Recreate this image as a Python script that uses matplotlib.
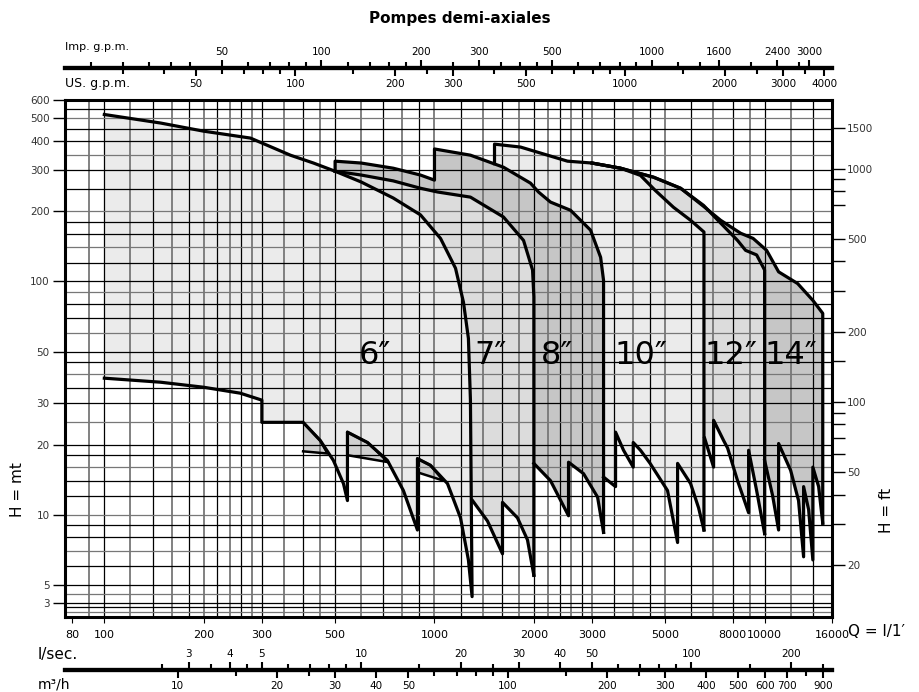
import numpy as np
import matplotlib.pyplot as plt
from matplotlib.ticker import NullLocator, NullFormatter

# Q in l/min, H in m
q6_top = [100, 148, 200, 277, 366, 430, 500, 600, 750, 907, 1043, 1158, 1224, 1267, 1285, 1300]
h6_top = [520, 478, 441, 412, 348, 322, 297, 267, 228, 193, 153, 114, 81.5, 57, 31, 3.7]
q6_bot = [100, 148, 200, 258, 300, 300, 400, 451, 494, 530, 545, 545, 627, 720, 805, 888,
          888, 972, 1095, 1199, 1267, 1300]
h6_bot = [38.5, 37, 35.2, 33.2, 31, 24.9, 24.9, 20.8, 17.1, 13.6, 11.5, 22.6, 20.4, 17.1, 12.7, 8.6,
          17.4, 16.3, 13.6, 9.7, 6.4, 3.7]

q7_top = [500, 600, 750, 907, 1021, 1285, 1618, 1861, 1982, 2000, 2000]
h7_top = [297, 286, 270, 251, 242, 230, 189, 150, 112, 86, 5.5]
q7_bot = [1304, 1447, 1607, 1607, 1784, 1913, 2000]
h7_bot = [11.5, 9.4, 6.8, 11.3, 9.7, 7.8, 5.5]

q8_top = [500, 500, 600, 750, 907, 1000, 1000, 1285, 1618, 1954, 2065, 2246, 2583, 2970, 3186, 3252, 3252]
h8_top = [297, 328, 322, 306, 286, 272, 370, 348, 309, 264, 242, 219, 202, 166, 127, 101, 8.4]
q8_bot = [2000, 2246, 2547, 2547, 2828, 3119, 3252]
h8_bot = [16.6, 14.0, 9.9, 16.8, 15.0, 11.9, 8.4]

q10_top = [1520, 1520, 1823, 2200, 2529, 3000, 3661, 4207, 4674, 5297, 5967, 6550, 6550]
h10_top = [320, 388, 377, 348, 328, 322, 306, 285, 245, 208, 183, 163, 8.6]
q10_bot = [3252, 3536, 3536, 3738, 4000, 4000, 4207, 4500, 5080, 5450, 5450, 5967, 6310, 6550]
h10_bot = [14.5, 13.2, 22.6, 18.9, 16.0, 20.4, 18.9, 16.6, 12.7, 7.6, 16.6, 13.6, 10.7, 8.6]

q12_top = [3000, 3661, 4207, 4609, 5567, 6532, 7359, 8279, 8757, 9458, 10000, 10000]
h12_top = [322, 306, 290, 280, 251, 212, 178, 150, 136, 130, 112, 8.3]
q12_bot = [6580, 7006, 7006, 7513, 7726, 8279, 8944, 8944, 9458, 10000]
h12_bot = [21.3, 16.0, 25.4, 20.8, 19.3, 14.0, 10.2, 18.9, 12.7, 8.3]

q14_top = [3000, 3661, 4207, 4609, 5567, 6532, 7359, 8462, 9230, 10140, 11025, 12590, 14000, 15000, 15000]
h14_top = [322, 306, 290, 280, 251, 210, 183, 161, 153, 136, 110, 98, 83, 73, 9.2]
q14_bot = [10000, 10570, 11025, 11025, 11990, 12670, 13125, 13125, 13595, 14000, 14000, 14575, 15000]
h14_bot = [17.1, 12.1, 8.6, 20.2, 15.5, 11.5, 6.6, 13.2, 10.5, 6.4, 16.0, 13.2, 9.2]

tri_q = [[400, 451, 474], [545, 627, 725], [888, 972, 1065]]
tri_h = [[24.9, 20.8, 18.3, 18.7], [22.6, 20.4, 16.8, 18.0], [17.4, 16.3, 14.0, 15.2]]

sizes = ['6″', '7″', '8″', '10″', '12″', '14″']
size_q = [662, 1478, 2358, 4207, 7887, 11990]

q_ticks = [80, 100, 200, 300, 500, 1000, 2000, 3000, 5000, 8000, 10000, 16000]
h_ticks = [3, 5, 10, 20, 30, 50, 100, 200, 300, 400, 500, 600]
ft_ticks = [20, 50, 100, 200, 500, 1000, 1500]
ft_minor = [30, 40, 60, 70, 80, 90, 150, 300, 400, 700, 800, 900]
imp_ticks = [50, 100, 200, 300, 500, 1000, 1600, 2400, 3000]
imp_minor = [20, 25, 30, 35, 40, 60, 70, 80, 90, 120, 140, 160, 180, 250, 350, 400, 450,
             600, 700, 800, 900, 1200, 1400, 2000, 2800]
us_ticks = [50, 100, 200, 300, 500, 1000, 2000, 3000, 4000]
us_minor = [30, 40, 60, 70, 80, 90, 150, 250, 400, 600, 700, 800, 900, 1500, 2500, 3500]
ls_ticks = [3, 4, 5, 10, 20, 30, 40, 50, 100, 200]
ls_minor = [2.5, 3.5, 4.5, 6, 7, 8, 9, 15, 25, 60, 70, 80, 90, 150, 250]
m3_ticks = [10, 20, 30, 40, 50, 100, 200, 300, 400, 500, 600, 700, 900]
m3_minor = [15, 25, 60, 70, 80, 90, 150, 250, 800]

grid_q = [90, 100, 120, 140, 160, 180, 200, 220, 240, 260, 280, 300, 350, 400, 450, 500, 600, 700,
          800, 900, 1000, 1200, 1400, 1600, 1800, 2000, 2200, 2400, 2600, 2800, 3000, 3500, 4000,
          4500, 5000, 6000, 7000, 8000, 9000, 10000, 12000, 14000]
grid_h = [2, 2.5, 3, 4, 5, 6, 7, 8, 9, 10, 12, 14, 16, 18, 20, 25, 30, 35, 40, 45, 50, 60, 70, 80,
          90, 100, 120, 140, 160, 180, 200, 250, 300, 350, 400, 450, 500, 550]

K = 0.0386  # compressed part of the H scale under 5 m


def fwd(h):
    h = np.asarray(h, dtype=float)
    with np.errstate(divide='ignore', invalid='ignore'):
        return np.where(h >= 5, np.log10(np.maximum(h, 5)), np.log10(5) - (5 - h) * K)


def inv(t):
    t = np.asarray(t, dtype=float)
    with np.errstate(over='ignore'):
        return np.where(t >= np.log10(5), 10 ** np.minimum(t, 10), 5 - (np.log10(5) - t) / K)


fig = plt.figure(figsize=(9.2, 6.92), dpi=100)
ax = fig.add_axes([65 / 920, 1 - 617 / 692, 767 / 920, 517 / 692])
ax.set_xscale('log')
ax.set_yscale('function', functions=(fwd, inv))
ax.set_xlim(76, 16000)
ax.set_ylim(1.44, 600)

# fills, back to front
light, mid, dark = '#ebebeb', '#dcdcdc', '#c6c6c6'
layers = [(q14_top, h14_top, q14_bot, h14_bot, dark),
          (q12_top, h12_top, q12_bot, h12_bot, mid),
          (q10_top, h10_top, q10_bot, h10_bot, light),
          (q8_top, h8_top, q8_bot, h8_bot, dark),
          (q7_top, h7_top, q7_bot, h7_bot, mid),
          (q6_top, h6_top, q6_bot, h6_bot, light)]
for qt, ht, qb, hb, c in layers:
    ax.fill(list(qt) + qb[::-1], list(ht) + hb[::-1], color=c, lw=0, zorder=1)
for tq, th in zip(tri_q, tri_h):
    ax.fill(tq + [tq[0]], th, color='#d0d0d0', lw=0, zorder=1.5)

# grid
for i, q in enumerate(grid_q):
    ax.axvline(q, color='black' if i % 2 else '#777777', lw=0.9 if i % 2 else 1.3, zorder=2)
for i, h in enumerate(grid_h):
    ax.axhline(h, color='black' if i % 3 else '#777777', lw=0.9, zorder=2)

# outlines
lw = 2.3
for qt, ht, qb, hb, c in layers[:-1]:
    ax.plot(qt, ht, color='black', lw=lw, zorder=3, solid_joinstyle='round')
    ax.plot(qb, hb, color='black', lw=lw, zorder=3, solid_joinstyle='round')
ax.plot(q6_top + q6_bot[::-1], h6_top + h6_bot[::-1], color='black', lw=lw, zorder=3,
        solid_joinstyle='round')
for tq, th in zip(tri_q, tri_h):
    ax.plot(tq + [tq[0]], th, color='black', lw=1.8, zorder=3)

for s, q in zip(sizes, size_q):
    ax.text(q, 48, s, fontsize=23, ha='center', va='center', zorder=4,
            family=['Liberation Sans Narrow', 'DejaVu Sans'])

# axes styling
for sp in ax.spines.values():
    sp.set_linewidth(2.2)
ax.set_xticks(q_ticks, [str(v) for v in q_ticks])
ax.xaxis.set_minor_locator(NullLocator())
ax.set_yticks(h_ticks, [str(v) for v in h_ticks])
ax.yaxis.set_minor_locator(NullLocator())
ax.tick_params(axis='x', length=4, labelsize=8, pad=5)
ax.tick_params(axis='y', length=9, width=1, labelsize=7.5, labelcolor='#333333', pad=2)

ax2 = ax.twinx()
ax2.set_yscale('function', functions=(fwd, inv))
ax2.set_ylim(ax.get_ylim())
ax2.set_yticks([f / 3.2808 for f in ft_ticks], [str(v) for v in ft_ticks])
ax2.set_yticks([f / 3.2808 for f in ft_minor], minor=True)
ax2.yaxis.set_minor_formatter(NullFormatter())
ax2.tick_params(axis='y', which='major', length=9, width=1, labelsize=7.5, labelcolor='#333333', pad=2)
ax2.tick_params(axis='y', which='minor', length=9, width=1)
for sp in ax2.spines.values():
    sp.set_visible(False)


def scale_axis(loc, align, fwd_f, inv_f, major, minor):
    sec = ax.secondary_xaxis(loc, functions=(fwd_f, inv_f))
    sec.set_alignment(align)
    sec.set_xticks(major, [str(v) for v in major])
    sec.set_xticks(minor, minor=True)
    sec.xaxis.set_minor_formatter(NullFormatter())
    sec.tick_params(which='major', length=6, width=1.5, labelsize=7.5, pad=2)
    sec.tick_params(which='minor', length=4, width=1.5)
    for sp in sec.spines.values():
        sp.set_linewidth(3)
    return sec


scale_axis(1.062, 'top', lambda q: q / 4.546, lambda g: g * 4.546, imp_ticks, imp_minor)
scale_axis(1.062, 'bottom', lambda q: q / 3.785, lambda g: g * 3.785, us_ticks, us_minor)
scale_axis(-0.1025, 'top', lambda q: q / 60, lambda s: s * 60, ls_ticks, ls_minor)
scale_axis(-0.1025, 'bottom', lambda q: q * 0.06, lambda m: m / 0.06, m3_ticks, m3_minor)

fig.text(0.5, 1 - 18 / 692, 'Pompes demi-axiales', ha='center', va='center', fontsize=11,
         fontweight='bold')
fig.text(65 / 920, 1 - 47 / 692, 'Imp. g.p.m.', ha='left', va='center', fontsize=8)
fig.text(65 / 920, 1 - 84 / 692, 'US. g.p.m.', ha='left', va='center', fontsize=9)
fig.text(38 / 920, 1 - 655 / 692, 'l/sec.', ha='left', va='center', fontsize=11)
fig.text(38 / 920, 1 - 684 / 692, 'm³/h', ha='left', va='center', fontsize=10)
fig.text(18 / 920, 1 - 490 / 692, 'H = mt', ha='center', va='center', fontsize=11, rotation=90)
fig.text(887 / 920, 1 - 510 / 692, 'H = ft', ha='center', va='center', fontsize=11, rotation=90)
fig.text(848 / 920, 1 - 632 / 692, 'Q = l/1′', ha='left', va='center', fontsize=11)

fig.savefig('out.png', dpi=100)
